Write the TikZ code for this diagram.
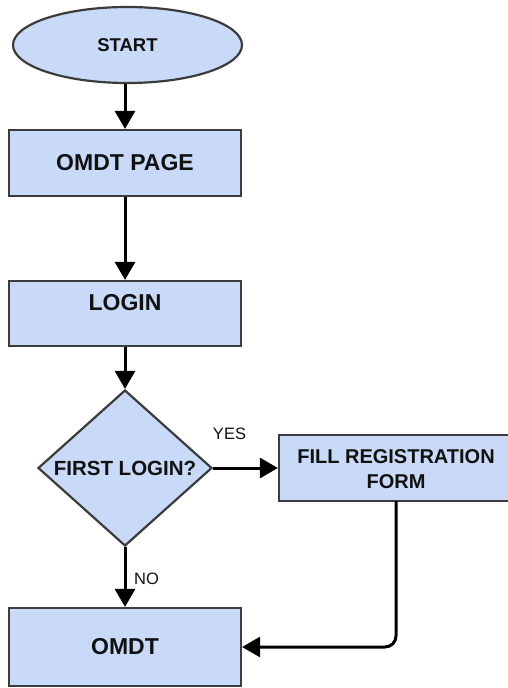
\documentclass[tikz,border=0pt]{standalone}
\usepackage{fontspec}
\setmainfont{Liberation Sans}
\usetikzlibrary{shapes.geometric,arrows.meta}
\definecolor{boxfill}{HTML}{C9DAF8}
\definecolor{boxline}{HTML}{3C3C3C}
\definecolor{ink}{HTML}{111111}
\tikzset{
  shapebase/.style={draw=boxline, fill=boxfill, line width=2.2pt, inner sep=0pt, text=ink},
  procbox/.style={shapebase, rectangle, minimum width=232pt, minimum height=66pt},
  startshape/.style={shapebase, ellipse, minimum width=229pt, minimum height=76pt},
  decision/.style={shapebase, diamond, aspect=1.1, minimum width=174pt, minimum height=156pt},
  boldtxt/.style={font=\fontsize{23}{27}\selectfont\bfseries, text=ink},
  edgelbl/.style={font=\fontsize{16.5}{19}\selectfont, text=ink, inner sep=0pt},
  flow/.style={line width=3pt, draw=black, -{Triangle[length=18pt,width=20pt]}},
}
\begin{document}
\begin{tikzpicture}[x=1pt,y=-1pt]
  \clip (0,0) rectangle (508,688);
  \fill[white] (0,0) rectangle (508,688);

  % shapes
  \node[startshape, font=\fontsize{18.5}{22}\selectfont\bfseries] (start) at (127.5,45) {START};
  \node[procbox, boldtxt] (page) at (125,163) {OMDT PAGE};
  \node[procbox, minimum height=65pt] (login) at (125,313.5) {};
  \node[boldtxt, inner sep=0pt] (logintext) at (125,303) {LOGIN};
  \node[decision, font=\fontsize{20.5}{24}\selectfont\bfseries] (first) at (125,468) {FIRST LOGIN?};
  % the registration box runs past the right-hand edge of the page
  \node[procbox, minimum width=244pt] (reg) at (401,468) {};
  \node[align=center, inner sep=0pt, text=ink,
        font=\fontsize{20}{25}\selectfont\bfseries] (regtext) at (396,469) {FILL REGISTRATION\\FORM};
  \coordinate (regfoot) at (396,501);
  \node[procbox, minimum height=78pt, boldtxt] (omdt) at (125,647) {OMDT};

  % connectors
  \draw[flow] (start.south -| page.north) -- (page.north);
  \draw[flow] (page.south) -- (login.north);
  \draw[flow] (login.south) -- (first.north);
  \draw[flow] (first.east) -- (first.east -| reg.west);
  \draw[flow] (first.south) -- (omdt.north);
  \draw[flow, rounded corners=11pt] (regfoot) |- (omdt.east);

  % branch labels
  \node[edgelbl] (yes) at (229.5,434) {YES};
  \node[edgelbl, anchor=west] (no) at (134,579) {NO};
\end{tikzpicture}
\end{document}
